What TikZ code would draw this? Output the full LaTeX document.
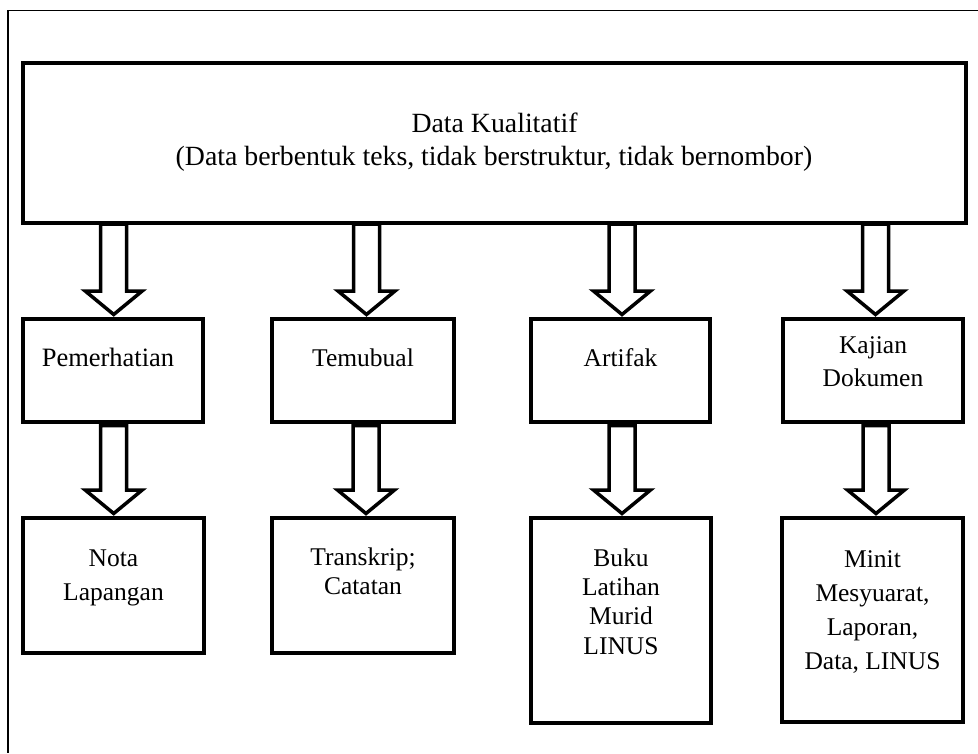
\documentclass[tikz,border=0pt]{standalone}
\usepackage{fontspec}
\setmainfont{Liberation Serif}
\usetikzlibrary{calc}
\newcommand\blockarr[2]{%
  \draw[blkarrow] let \p1=(#1), \p2=(#2) in
    (\x1-13pt,\y1) -- (\x1-13pt,\y2+23.5pt) -- (\x1-28.5pt,\y2+23.5pt) -- (\x1,\y2)
    -- (\x1+28.5pt,\y2+23.5pt) -- (\x1+13pt,\y2+23.5pt) -- (\x1+13pt,\y1) -- cycle;}
\begin{document}
\begin{tikzpicture}[x=1pt,y=1pt,
  boxst/.style={draw=black, line width=3.5pt, rectangle, inner sep=0pt, outer sep=0pt, fill=white},
  blkarrow/.style={draw=black, line width=3.5pt, fill=white, line join=miter},
  toptxt/.style={font=\fontsize{27.8}{33}\selectfont, inner sep=0pt, anchor=base},
  boxtxt/.style={font=\fontsize{25.5}{29}\selectfont, inner sep=0pt, anchor=base},
  framest/.style={draw=black, line width=1.5pt}]
\useasboundingbox[fill=white] (0,0) rectangle (978,-753);
% outer frame (cut off at right and bottom)
\draw[framest] (978,-10.5) -- (8,-10.5) -- (8,-753);
% boxes
\node[boxst, minimum width=943pt, minimum height=160pt] (top) at (494.5,-143) {};
\node[boxst, minimum width=180pt, minimum height=103pt] (b1) at (113,-370.5) {};
\node[boxst, minimum width=182pt, minimum height=103pt] (b2) at (363,-370.5) {};
\node[boxst, minimum width=179pt, minimum height=103pt] (b3) at (620.5,-370.5) {};
\node[boxst, minimum width=180pt, minimum height=103pt] (b4) at (873,-370.5) {};
\node[boxst, minimum width=181pt, minimum height=135pt] (b5) at (113.5,-585.5) {};
\node[boxst, minimum width=182pt, minimum height=135pt] (b6) at (363,-585.5) {};
\node[boxst, minimum width=180pt, minimum height=205pt] (b7) at (621,-620.5) {};
\node[boxst, minimum width=181pt, minimum height=204pt] (b8) at (872.5,-620) {};
% arrow end points
\coordinate (s1) at ($(top.south -| b1.north)+(0.7,-1)$);
\coordinate (e1) at ($(b1.north)+(0.7,4.5)$);
\coordinate (s2) at ($(top.south -| b2.north)+(3.5,-1)$);
\coordinate (e2) at ($(b2.north)+(3.5,4.5)$);
\coordinate (s3) at ($(top.south -| b3.north)+(1.5,-1)$);
\coordinate (e3) at ($(b3.north)+(1.5,4.5)$);
\coordinate (s4) at ($(top.south -| b4.north)+(2.5,-1)$);
\coordinate (e4) at ($(b4.north)+(2.5,4.5)$);
\coordinate (s5) at ($(b1.south)+(0.7,-3.5)$);
\coordinate (e5) at ($(b5.north -| b1.north)+(0.7,4.5)$);
\coordinate (s6) at ($(b2.south)+(3,-3.5)$);
\coordinate (e6) at ($(b6.north -| b2.north)+(3,4.5)$);
\coordinate (s7) at ($(b3.south)+(1.5,-3.5)$);
\coordinate (e7) at ($(b7.north -| b3.north)+(1.5,4.5)$);
\coordinate (s8) at ($(b4.south)+(3,-3.5)$);
\coordinate (e8) at ($(b8.north -| b4.north)+(3,4.5)$);
\blockarr{s1}{e1}
\blockarr{s2}{e2}
\blockarr{s3}{e3}
\blockarr{s4}{e4}
\blockarr{s5}{e5}
\blockarr{s6}{e6}
\blockarr{s7}{e7}
\blockarr{s8}{e8}
% texts
\node[toptxt] (tt1) at (494.5,-132) {Data Kualitatif};
\node[toptxt] (tt2) at (494,-165) {(Data berbentuk teks, tidak berstruktur, tidak bernombor)};
\node[boxtxt, font=\fontsize{26.5}{30}\selectfont] (t1) at (108,-366) {Pemerhatian};
\node[boxtxt] (t2) at (363,-366) {Temubual};
\node[boxtxt] (t3) at (620.5,-366) {Artifak};
\node[boxtxt] (t4a) at (873,-353) {Kajian};
\node[boxtxt] (t4b) at (873,-386) {Dokumen};
\node[boxtxt] (t5a) at (113.5,-566.7) {Nota};
\node[boxtxt] (t5b) at (113.5,-600) {Lapangan};
\node[boxtxt] (t6a) at (363,-565.7) {Transkrip;};
\node[boxtxt] (t6b) at (363,-594.3) {Catatan};
\node[boxtxt] (t7a) at (621,-566) {Buku};
\node[boxtxt] (t7b) at (621,-595) {Latihan};
\node[boxtxt] (t7c) at (621,-624.5) {Murid};
\node[boxtxt] (t7d) at (621,-654.5) {LINUS};
\node[boxtxt] (t8a) at (872.5,-567) {Minit};
\node[boxtxt] (t8b) at (872.5,-601.7) {Mesyuarat,};
\node[boxtxt] (t8c) at (872.5,-635.7) {Laporan,};
\node[boxtxt] (t8d) at (872.5,-669) {Data, LINUS};
\end{tikzpicture}
\end{document}
